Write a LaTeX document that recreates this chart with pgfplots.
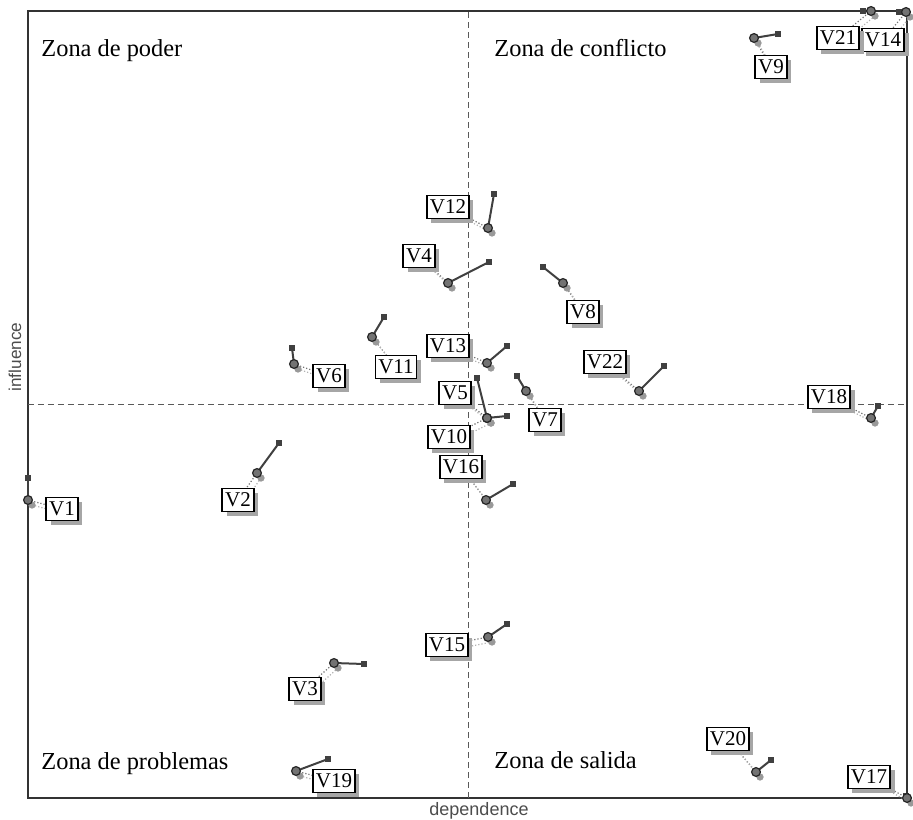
\documentclass[border=0pt]{standalone}
\usepackage{fontspec}
\setmainfont{Liberation Serif}
\newfontfamily\sansf{Liberation Sans}
\usepackage{pgfplots}
\usepackage{pgfplotstable}
\pgfplotsset{compat=1.18}
\usetikzlibrary{shadows}

% x0,y0 = position, x1,y1 = end of displacement segment, lx,ly = label
\pgfplotstableread{
name x0  y0  x1  y1  lx  ly
V1   0   298 0   320 34  289
V2   229 325 251 355 210 298
V3   306 135 336 134 277 109
V4   420 515 461 536 391 542
V5   459 380 449 420 427 405
V6   266 434 264 450 301 422
V7   498 407 489 422 517 378
V8   535 515 515 531 555 486
V9   726 760 750 764 743 731
V10  459 380 479 382 421 361
V11  344 461 356 481 368 431
V12  460 570 466 604 420 591
V13  459 435 479 452 420 452
V14  878 786 871 786 855 758
V15  460 161 479 174 419 153
V16  458 298 485 314 433 331
V17  879 0   878 2   841 21
V18  843 380 850 392 801 401
V19  268 27  300 39  306 17
V20  728 26  743 38  700 59
V21  843 787 835 787 810 760
V22  611 407 636 432 577 436
}\vars

\tikzset{vlabel/.style={draw=black, line width=0.7pt, fill=white,
  inner xsep=1.5pt, inner ysep=2.3pt, font=\fontsize{10.5}{10.5}\selectfont,
  drop shadow={shadow xshift=2.2pt, shadow yshift=-2.2pt, fill=black!35, opacity=1}},
  zone/.style={anchor=base west, inner sep=0pt, font=\fontsize{12.2}{12.2}\selectfont}}

\begin{document}
\begin{tikzpicture}
\begin{axis}[
  x=0.5pt, y=0.5pt,
  xmin=0, xmax=879, ymin=0, ymax=787,
  xtick=\empty, ytick=\empty,
  axis line style={draw=black!80, line width=0.8pt},
  clip=false,
]
\coordinate (sw) at (rel axis cs:0,0);
\coordinate (ne) at (rel axis cs:1,1);
\draw[black!65, densely dashed, line width=0.4pt] (axis cs:440,0) -- (axis cs:440,787);
\draw[black!65, densely dashed, line width=0.4pt] (axis cs:0,394) -- (axis cs:879,394);

\node[zone] at (axis cs:13,741) {Zona de poder};
\node[zone] at (axis cs:466,741) {Zona de conflicto};
\node[zone] at (axis cs:13,29) {Zona de problemas};
\node[zone] at (axis cs:466,30) {Zona de salida};
\node[rotate=90, font=\sansf\fontsize{8.6}{8.6}\selectfont, text=black!70, inner sep=0pt] at (axis cs:-13,441) {influence};
\node[anchor=north, font=\sansf\fontsize{9}{9}\selectfont, text=black!70, inner sep=0pt] at (axis cs:451,-4) {dependence};

% dotted leaders from points to labels
\addplot[quiver={u=\thisrow{lx}-\thisrow{x0}, v=\thisrow{ly}-\thisrow{y0}},
  black!55, densely dotted, line width=0.6pt] table[x=x0, y=y0] {\vars};
\addplot[quiver={u=\thisrow{lx}-\thisrow{x0}, v=\thisrow{ly}-\thisrow{y0}},
  black!30, densely dotted, line width=0.6pt, xshift=2pt, yshift=-2.5pt] table[x=x0, y=y0] {\vars};
% secondary (grey) positions
\addplot[only marks, mark=*, mark size=1.6pt, color=black!40,
  mark options={xshift=2pt, yshift=-2.5pt}] table[x=x0, y=y0] {\vars};
% displacement segments
\addplot[quiver={u=\thisrow{x1}-\thisrow{x0}, v=\thisrow{y1}-\thisrow{y0}},
  black!75, line width=1pt] table[x=x0, y=y0] {\vars};
\addplot[only marks, mark=square*, mark size=1.1pt, color=black!75] table[x=x1, y=y1] {\vars};
% positions
\addplot[only marks, mark=*, mark size=2.2pt, draw=black!85, fill=black!55,
  line width=0.6pt] table[x=x0, y=y0] {\vars};
% labels
\addplot[draw=none, mark=none, nodes near coords, point meta=explicit symbolic,
  nodes near coords style={vlabel, anchor=center}] table[x=lx, y=ly, meta=name] {\vars};
\end{axis}
\pgfresetboundingbox
\useasboundingbox ([shift={(-14pt,-10.5pt)}]sw) rectangle ([shift={(3pt,5.5pt)}]ne);
\end{tikzpicture}
\end{document}
